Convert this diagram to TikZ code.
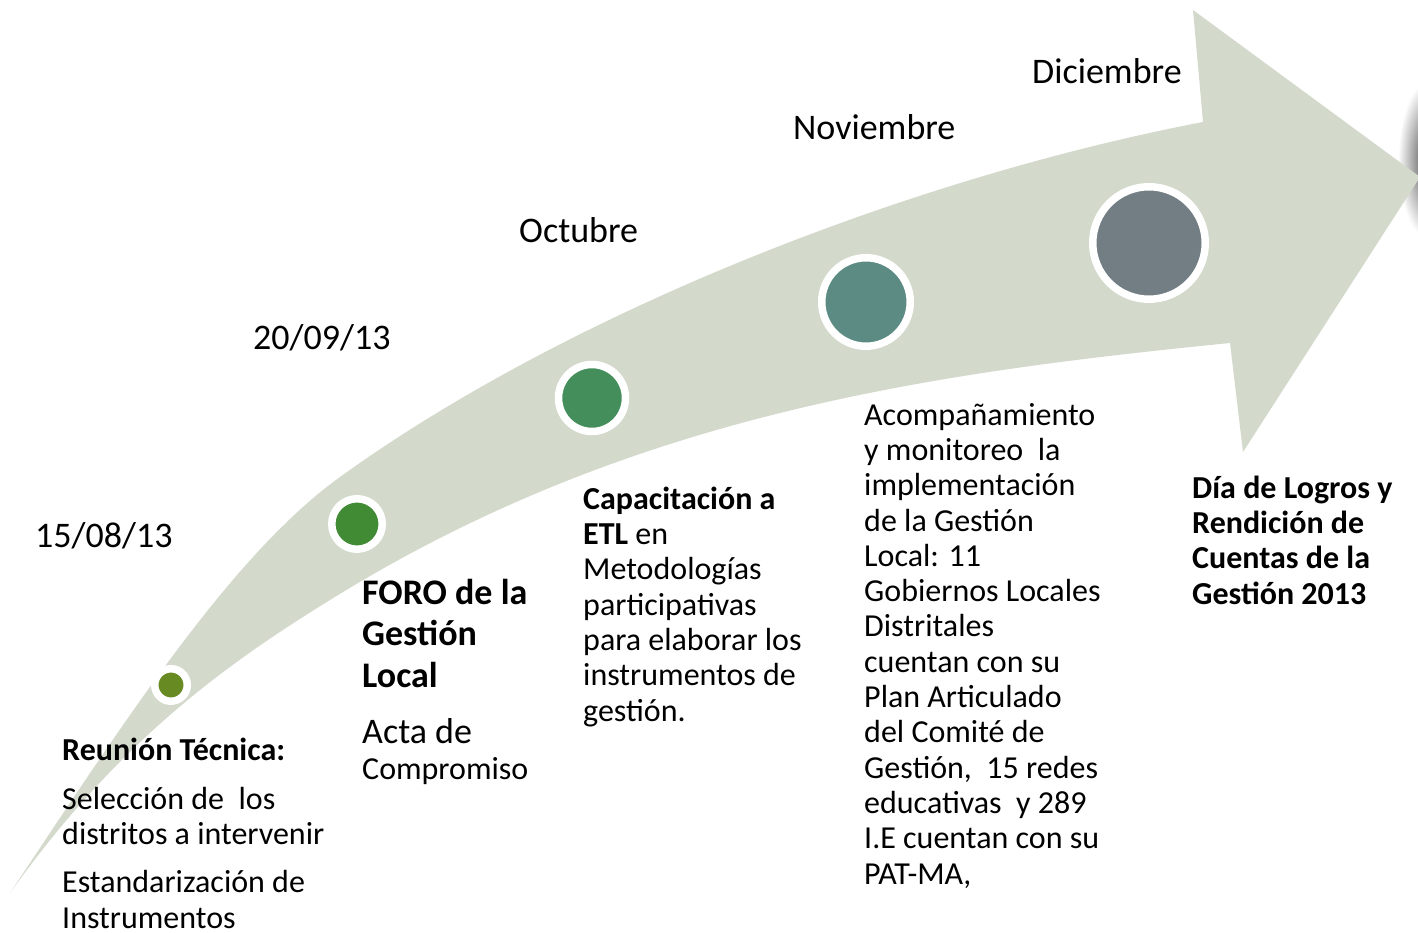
\documentclass[tikz,border=0pt]{standalone}
\usepackage{fontspec}
\setmainfont{Carlito}
\usetikzlibrary{shadows}
\definecolor{bandgreen}{RGB}{211,218,204}
\definecolor{dotA}{RGB}{103,138,34}
\definecolor{dotB}{RGB}{64,139,52}
\definecolor{dotC}{RGB}{68,142,92}
\definecolor{dotD}{RGB}{92,139,131}
\definecolor{dotE}{RGB}{114,126,131}

\begin{document}
\begin{tikzpicture}[x=1pt,y=-1pt,
  date/.style={anchor=base west,inner sep=0pt,font=\fontsize{36}{43}\selectfont},
  body/.style={anchor=base west,align=left,inner sep=0pt,font=\fontsize{32}{35.3}\selectfont},
  dot/.style={circle,draw=white,line width=7.5pt,fill=#1,inner sep=0pt,
    drop shadow={shadow xshift=1.5pt,shadow yshift=-3.5pt,opacity=0.35}}]
\useasboundingbox (0,0) rectangle (1418,933);

\shade[inner color=black!75,outer color=white] (1430,160) ellipse (32 and 80);

\fill[bandgreen] (10,893) .. controls (120,728) and (230,556) .. (340,477)
  .. controls (570,311) and (915,177) .. (1203,122)
  -- (1193,10) -- (1420,177) -- (1243,452) -- (1230,343)
  .. controls (930,373) and (630,414) .. (330,600)
  .. controls (223,666) and (117,743) .. (10,893) -- cycle;

\node[dot=dotA,minimum size=32.5pt] (m1) at (171,685) {};
\node[dot=dotB,minimum size=50.5pt] (m2) at (357,524) {};
\node[dot=dotC,minimum size=67pt] (m3) at (592,398) {};
\node[dot=dotD,minimum size=88.5pt] (m4) at (866,302) {};
\node[dot=dotE,minimum size=112.5pt] (m5) at (1149,243) {};

\node[date] (fecha1) at (35,547) {15/08/13};
\node[date] (fecha2) at (253,349) {20/09/13};
\node[date] (octubre) at (519,243) {Octubre};
\node[date] (noviembre) at (793,140) {Noviembre};
\node[date] (diciembre) at (1032,84) {Diciembre};

\node[body] (reunion) at (62,928) {\textbf{Reunión Técnica:}\\[13pt]Selección de\ \ los\\distritos a intervenir\\[13pt]Estandarización de\\Instrumentos};
\node[body,font=\bfseries\fontsize{36}{41.5}\selectfont] (foro) at (362,687) {FORO de la\\Gestión\\Local};
\node[body,font=\fontsize{36}{40}\selectfont] (acta) at (362,743) {Acta de};
\node[body] (compromiso) at (362,779) {Compromiso};
\node[body] (capacitacion) at (583,721) {\textbf{Capacitación a}\\\textbf{ETL} en\\Metodologías\\participativas\\para elaborar los\\instrumentos de\\gestión.};
\node[body] (acompana) at (864,884) {Acompañamiento\\y monitoreo\ \ la\\implementación\\de la Gestión\\Local: 11\\Gobiernos Locales\\Distritales\\cuentan con su\\Plan Articulado\\del Comité de\\Gestión,\ \ 15 redes\\educativas\ \ y 289\\I.E cuentan con su\\PAT-MA,};
\node[body,font=\bfseries\fontsize{32}{35.3}\selectfont] (logros) at (1192,604) {Día de Logros y\\Rendición de\\Cuentas de la\\Gestión 2013};
\end{tikzpicture}
\end{document}
